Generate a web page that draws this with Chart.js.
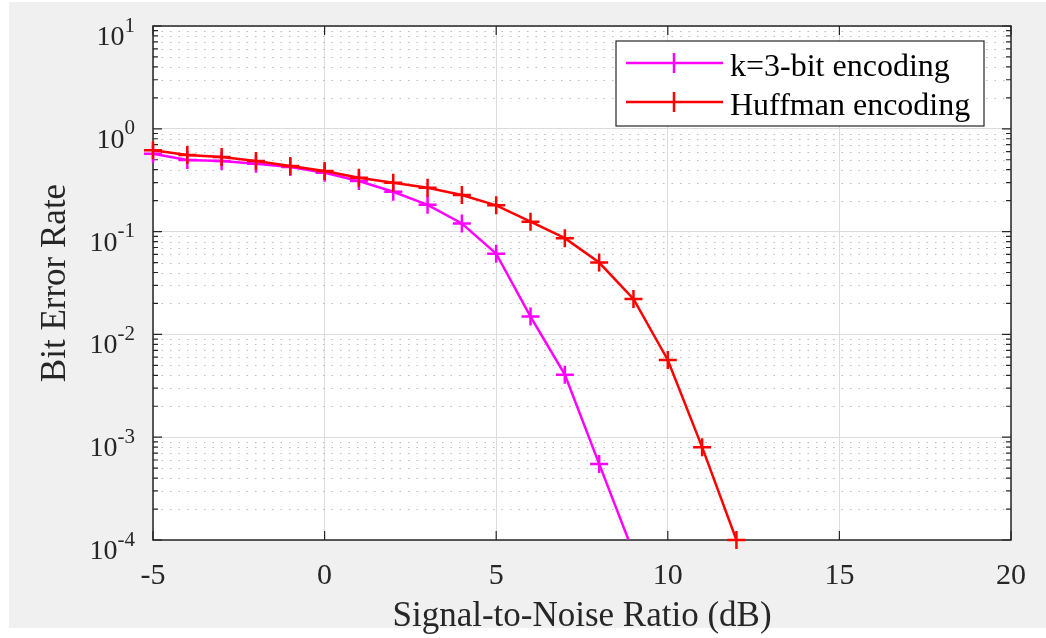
<!DOCTYPE html>
<html>
<head>
<meta charset="utf-8">
<script src="https://cdn.jsdelivr.net/npm/chart.js@4.4.1/dist/chart.umd.min.js"></script>
<style>
  html, body { margin: 0; padding: 0; background: #fff; }
  #wrap { width: 1046px; height: 638px; }
</style>
</head>
<body>
<div id="wrap"><canvas id="berChart" width="1046" height="638"></canvas></div>
<script>
// SNR (dB) and bit error rate
const snrK3 = [-5, -4, -3, -2, -1, 0, 1, 2, 3, 4, 5, 6, 7, 8, 9];
const berK3 = [0.573, 0.497, 0.486, 0.457, 0.425, 0.374, 0.311, 0.244, 0.182, 0.120, 0.061, 0.0149, 0.00406, 0.00055, 0.000075];
const snrHuffman = [-5, -4, -3, -2, -1, 0, 1, 2, 3, 4, 5, 6, 7, 8, 9, 10, 11, 12];
const berHuffman = [0.617, 0.555, 0.531, 0.486, 0.434, 0.388, 0.334, 0.299, 0.267, 0.227, 0.180, 0.125, 0.0863, 0.050, 0.0221, 0.00564, 0.0008, 0.0001];

const seriesLabels = ['k=3-bit encoding', 'Huffman encoding'];
const seriesColors = ['#ff00ff', '#ff0000'];

const xTicks = [-5, 0, 5, 10, 15, 20];
const yTicks = [1e-4, 1e-3, 1e-2, 1e-1, 1, 10];
const yMinorSteps = [2, 3, 4, 5, 6, 7, 8, 9];

const serif = "'Liberation Serif', 'Times New Roman', serif";
const axisColor = '#262626';

// matlab-like look: gray figure, box, inner ticks, dotted minor grid, boxed legend
const matlabAxes = {
    id: 'matlabAxes',
    beforeDraw(chart) {
        const ctx = chart.ctx;
        const a = chart.chartArea;
        ctx.save();
        ctx.fillStyle = '#ffffff';
        ctx.fillRect(0, 0, chart.width, chart.height);
        ctx.fillStyle = '#f0f0f0';
        ctx.fillRect(9, 2, chart.width - 9, 626);
        ctx.fillStyle = '#ffffff';
        ctx.fillRect(a.left, a.top, a.right - a.left, a.bottom - a.top);
        ctx.restore();
    },
    beforeDatasetsDraw(chart) {
        const ctx = chart.ctx;
        const a = chart.chartArea;
        const xs = chart.scales.x;
        const ys = chart.scales.y;
        ctx.save();

        // minor grid (dotted)
        ctx.strokeStyle = '#bdbdbd';
        ctx.lineWidth = 1;
        ctx.setLineDash([1.5, 7]);
        for (let i = 0; i < yTicks.length - 1; i++) {
            yMinorSteps.forEach(m => {
                const py = Math.round(ys.getPixelForValue(yTicks[i] * m)) + 0.5;
                ctx.beginPath();
                ctx.moveTo(a.left, py);
                ctx.lineTo(a.right, py);
                ctx.stroke();
            });
        }
        ctx.setLineDash([]);

        // tick marks pointing inwards
        ctx.strokeStyle = axisColor;
        ctx.lineWidth = 1.2;
        ctx.beginPath();
        yTicks.forEach((v, i) => {
            const py = ys.getPixelForValue(v);
            ctx.moveTo(a.left, py); ctx.lineTo(a.left + 9, py);
            ctx.moveTo(a.right, py); ctx.lineTo(a.right - 9, py);
            if (i < yTicks.length - 1) {
                yMinorSteps.forEach(m => {
                    const pm = ys.getPixelForValue(v * m);
                    ctx.moveTo(a.left, pm); ctx.lineTo(a.left + 5, pm);
                    ctx.moveTo(a.right, pm); ctx.lineTo(a.right - 5, pm);
                });
            }
        });
        xTicks.forEach(v => {
            const px = xs.getPixelForValue(v);
            ctx.moveTo(px, a.bottom); ctx.lineTo(px, a.bottom - 9);
            ctx.moveTo(px, a.top); ctx.lineTo(px, a.top + 9);
        });
        ctx.stroke();

        // axes box
        ctx.lineWidth = 1.5;
        ctx.strokeRect(a.left, a.top, a.right - a.left, a.bottom - a.top);
        ctx.restore();
    },
    afterDraw(chart) {
        const ctx = chart.ctx;
        const ys = chart.scales.y;
        ctx.save();
        ctx.fillStyle = axisColor;
        ctx.textBaseline = 'alphabetic';

        // y tick labels as 10^n with a raised exponent
        yTicks.forEach(v => {
            const py = ys.getPixelForValue(v);
            const exp = String(Math.round(Math.log10(v)));
            ctx.font = '21px ' + serif;
            const expW = ctx.measureText(exp).width;
            ctx.font = '28px ' + serif;
            const baseW = ctx.measureText('10').width;
            const expX = 135 - expW;
            ctx.fillText('10', expX - baseW, py + 19);
            ctx.font = '21px ' + serif;
            ctx.fillText(exp, expX, py + 5.5);
        });

        // legend box
        const box = { left: 616, top: 41, right: 984, bottom: 126 };
        ctx.fillStyle = '#ffffff';
        ctx.fillRect(box.left, box.top, box.right - box.left, box.bottom - box.top);
        ctx.strokeStyle = axisColor;
        ctx.lineWidth = 1.2;
        ctx.strokeRect(box.left, box.top, box.right - box.left, box.bottom - box.top);

        const rows = [63, 102];
        chart.data.datasets.forEach((ds, i) => {
            const ry = rows[i];
            ctx.strokeStyle = ds.borderColor;
            ctx.lineWidth = ds.borderWidth;
            ctx.beginPath();
            ctx.moveTo(626, ry); ctx.lineTo(723, ry);
            ctx.moveTo(674, ry - 10); ctx.lineTo(674, ry + 10);
            ctx.stroke();
            ctx.fillStyle = '#000000';
            ctx.font = '32px ' + serif;
            ctx.fillText(ds.label, 730, ry + 13);
        });
        ctx.restore();
    }
};

function makeSeries(xs, ys) {
    return xs.map((x, i) => ({ x: x, y: ys[i] }));
}

const ctx = document.getElementById('berChart').getContext('2d');
new Chart(ctx, {
    type: 'line',
    data: {
        datasets: [
            {
                label: seriesLabels[0],
                data: makeSeries(snrK3, berK3),
                borderColor: seriesColors[0],
                backgroundColor: seriesColors[0],
                borderWidth: 2.5,
                pointStyle: 'cross',
                pointRadius: 9,
                pointHoverRadius: 9,
                pointBorderWidth: 2.5,
                tension: 0,
                order: 1,
                clip: { left: false, top: false, right: false, bottom: 0 }
            },
            {
                label: seriesLabels[1],
                data: makeSeries(snrHuffman, berHuffman),
                borderColor: seriesColors[1],
                backgroundColor: seriesColors[1],
                borderWidth: 2.5,
                pointStyle: 'cross',
                pointRadius: 9,
                pointHoverRadius: 9,
                pointBorderWidth: 2.5,
                tension: 0,
                order: 0,
                clip: false
            }
        ]
    },
    options: {
        responsive: false,
        animation: false,
        devicePixelRatio: 1,
        layout: { padding: { top: 26, right: 35, bottom: 0, left: 0 } },
        plugins: {
            legend: { display: false },
            tooltip: { enabled: false }
        },
        scales: {
            x: {
                type: 'linear',
                min: -5,
                max: 20,
                afterBuildTicks: s => { s.ticks = xTicks.map(v => ({ value: v })); },
                afterFit: s => { s.height = 98; },
                ticks: {
                    font: { family: serif, size: 30 },
                    color: axisColor,
                    padding: 18,
                    maxRotation: 0,
                    autoSkip: false,
                    callback: v => String(v)
                },
                grid: { color: '#dcdcdc', lineWidth: 1, drawTicks: false },
                border: { display: false },
                title: {
                    display: true,
                    text: 'Signal-to-Noise Ratio (dB)',
                    font: { family: serif, size: 35 },
                    color: axisColor,
                    padding: { top: 5, bottom: 0 }
                }
            },
            y: {
                type: 'logarithmic',
                min: 1e-4,
                max: 10,
                afterBuildTicks: s => { s.ticks = yTicks.map(v => ({ value: v, major: true })); },
                afterFit: s => { s.width = 153; },
                ticks: { display: false },
                grid: { color: '#dcdcdc', lineWidth: 1, drawTicks: false },
                border: { display: false },
                title: {
                    display: true,
                    text: 'Bit Error Rate',
                    font: { family: serif, size: 35 },
                    color: axisColor,
                    padding: { top: 35, bottom: 0 }
                }
            }
        }
    },
    plugins: [matlabAxes]
});
</script>
</body>
</html>
